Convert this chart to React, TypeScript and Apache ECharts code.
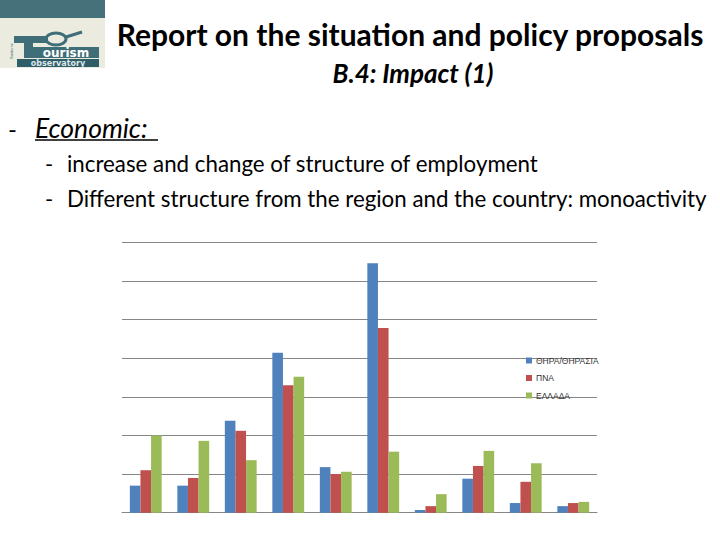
import React, { useEffect, useRef } from "react";
import * as echarts from "echarts";

const categories = ["1", "2", "3", "4", "5", "6", "7", "8", "9", "10"];
const seriesNames = ["ΘΗΡΑ/ΘΗΡΑΣΙΑ", "ΠΝΑ", "ΕΛΛΑΔΑ"];
const thira = [3.5, 3.5, 11.9, 20.7, 5.9, 32.3, 0.35, 4.4, 1.25, 0.85];
const pna = [5.5, 4.5, 10.6, 16.5, 5.0, 23.9, 0.85, 6.05, 4.0, 1.25];
const ellada = [10.0, 9.3, 6.8, 17.6, 5.3, 7.9, 2.4, 8.0, 6.4, 1.4];
const colors = ["#4F81BD", "#C0504D", "#9BBB59"];
const yMax = 35;
const yInterval = 5;

const titleText = "Report on the situation and policy proposals";
const subtitleText = "B.4: Impact (1)";
const headingText = "Economic:";
const bullets = [
  "increase and change of structure of employment",
  "Different structure from the region and the country: monoactivity",
];

export default function App() {
  const ref = useRef<HTMLDivElement>(null);
  useEffect(() => {
    if (!ref.current) return;
    const chart = echarts.init(ref.current, null, { renderer: "svg" });
    const font = "Lato, 'Open Sans', sans-serif";
    const teal = "#3F6E78";
    const graphic: any[] = [
      // logo block
      { type: "rect", shape: { x: 0, y: 0, width: 105, height: 18 }, style: { fill: "#46707A" } },
      { type: "rect", shape: { x: 0, y: 18, width: 105, height: 50 }, style: { fill: "#EBEBE0" } },
      { type: "rect", shape: { x: 14, y: 36, width: 34, height: 7 }, style: { fill: teal } },
      { type: "rect", shape: { x: 24, y: 36, width: 9, height: 22 }, style: { fill: teal } },
      { type: "ellipse", shape: { cx: 56, cy: 39, rx: 10, ry: 6 }, style: { fill: "none", stroke: teal, lineWidth: 3 } },
      { type: "line", shape: { x1: 66, y1: 37, x2: 82, y2: 32 }, style: { stroke: teal, lineWidth: 3 } },
      { type: "rect", shape: { x: 33, y: 47, width: 66, height: 11 }, style: { fill: teal } },
      {
        type: "text",
        style: { text: "ourism", x: 66, y: 52.5, font: "bold 12px 'DejaVu Sans', sans-serif", fill: "#FFFFFF", textAlign: "center", textVerticalAlign: "middle" },
      },
      { type: "rect", shape: { x: 17, y: 59, width: 82, height: 8 }, style: { fill: "#2F5E68" } },
      {
        type: "text",
        style: { text: "observatory", x: 58, y: 63.5, font: "bold 8px 'DejaVu Sans', sans-serif", fill: "#DDE8E8", textAlign: "center", textVerticalAlign: "middle" },
      },
      {
        type: "text",
        rotation: Math.PI / 2,
        x: 11,
        y: 51,
        style: { text: "Santorini", x: 0, y: 0, font: "4px sans-serif", fill: teal, textAlign: "center", textVerticalAlign: "middle" },
      },
      // titles
      {
        type: "text",
        style: { text: titleText, x: 410, y: 34, font: `bold 30px ${font}`, fill: "#000000", textAlign: "center", textVerticalAlign: "middle" },
      },
      {
        type: "text",
        style: { text: subtitleText, x: 413, y: 73, font: `italic bold 26px ${font}`, fill: "#000000", textAlign: "center", textVerticalAlign: "middle" },
      },
      {
        type: "text",
        style: { text: "-", x: 8, y: 128, font: `24px ${font}`, fill: "#000000", textVerticalAlign: "middle" },
      },
      {
        type: "text",
        style: { text: headingText, x: 35, y: 128, font: `italic 26.5px ${font}`, fill: "#000000", textVerticalAlign: "middle" },
      },
      { type: "line", shape: { x1: 35, y1: 140, x2: 158, y2: 140 }, style: { stroke: "#000000", lineWidth: 1.3 } },
    ];
    bullets.forEach((b, i) => {
      const y = 163 + i * 35;
      graphic.push({ type: "text", style: { text: "-", x: 45, y, font: `22px ${font}`, fill: "#000000", textVerticalAlign: "middle" } });
      graphic.push({ type: "text", style: { text: b, x: 67, y, font: `22.3px ${font}`, fill: "#000000", textVerticalAlign: "middle" } });
    });

    const data = [thira, pna, ellada];
    chart.setOption({
      animation: false,
      backgroundColor: "#FFFFFF",
      graphic,
      grid: { left: 122, right: 123, top: 242.3, bottom: 27.3, containLabel: false },
      legend: {
        orient: "vertical",
        left: 521,
        top: 350,
        icon: "rect",
        itemWidth: 6,
        itemHeight: 6,
        itemGap: 6.5,
        textStyle: { fontSize: 8.5, lineHeight: 11, color: "#333333", fontFamily: "'Liberation Sans', sans-serif", padding: [0, 0, 0, -1] },
        data: seriesNames,
      },
      xAxis: {
        type: "category",
        data: categories,
        axisLine: { show: true, lineStyle: { color: "#868686", width: 1 } },
        axisTick: { show: false },
        axisLabel: { show: false },
      },
      yAxis: {
        type: "value",
        min: 0,
        max: yMax,
        interval: yInterval,
        axisLine: { show: false },
        axisTick: { show: false },
        axisLabel: { show: false },
        splitLine: { lineStyle: { color: "#868686", width: 1 } },
      },
      series: seriesNames.map((name, i) => ({
        name,
        type: "bar",
        data: data[i],
        barGap: "0%",
        barCategoryGap: "33%",
        itemStyle: { color: colors[i] },
      })),
    });
    return () => chart.dispose();
  }, []);
  return <div ref={ref} style={{ position: "fixed", left: 0, top: 0, width: 720, height: 540 }} />;
}
